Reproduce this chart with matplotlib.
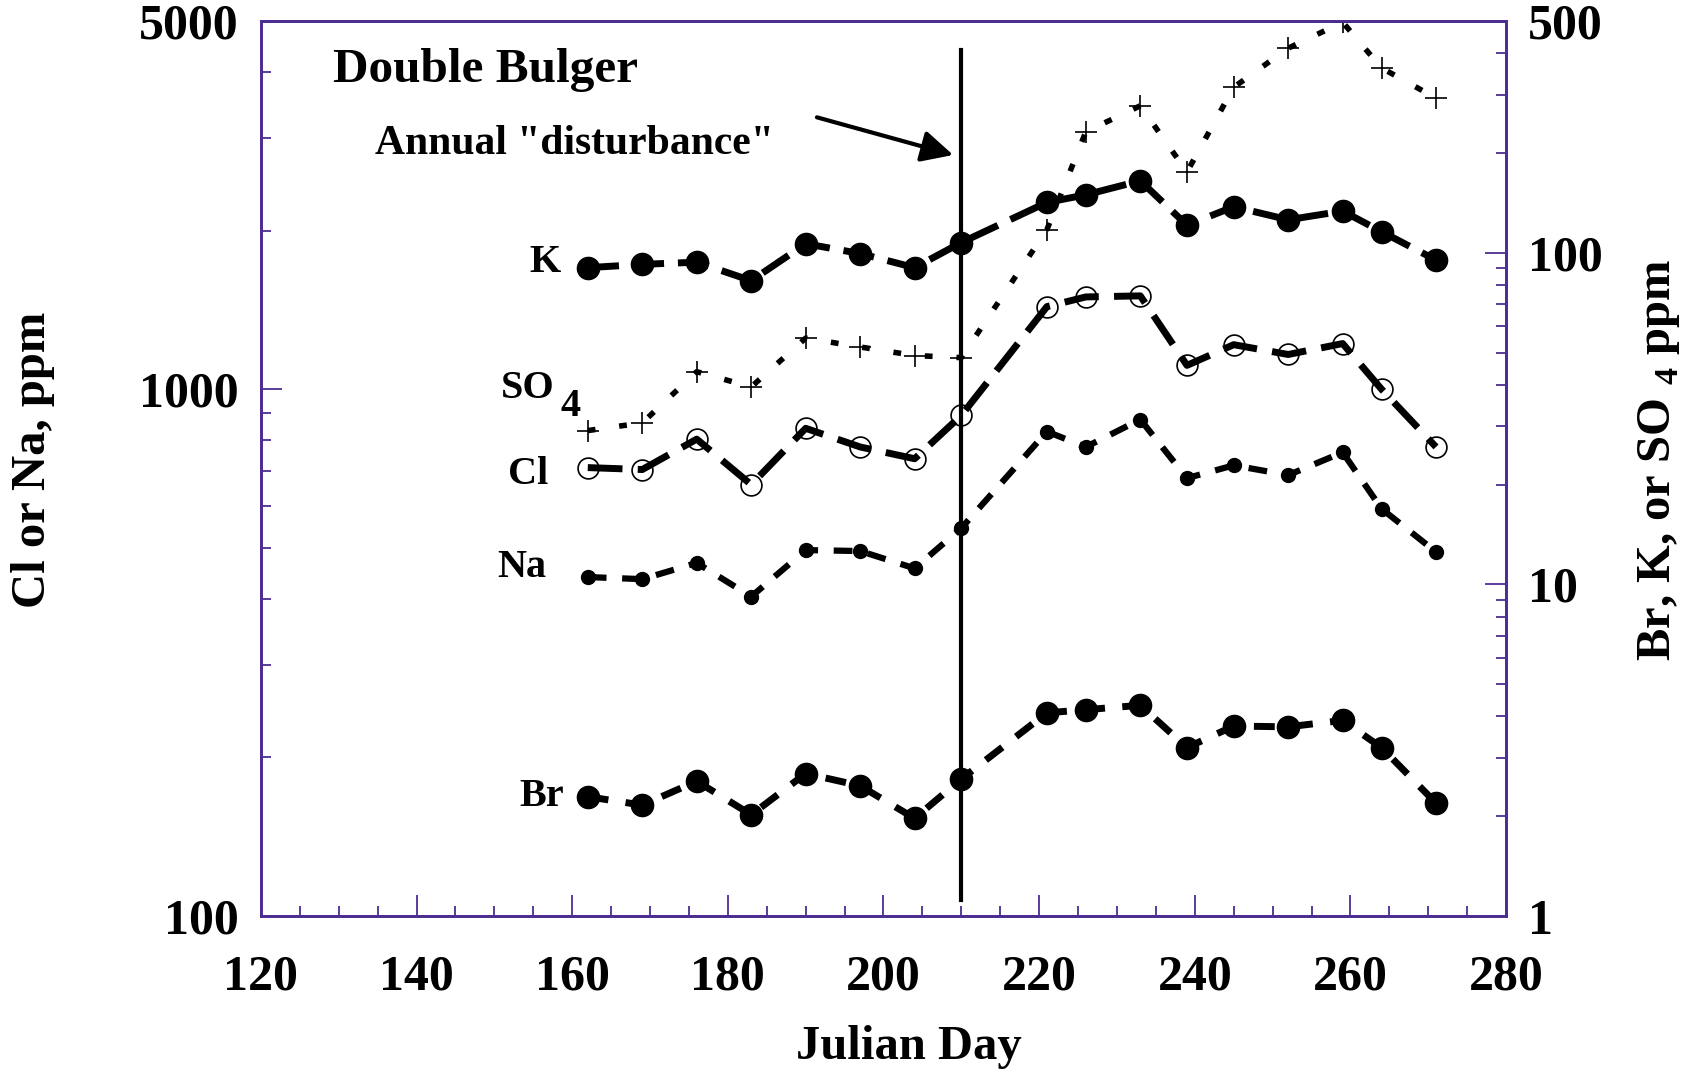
import numpy as np
import matplotlib
matplotlib.use("Agg")
import matplotlib.pyplot as plt
from matplotlib.ticker import LogLocator, FixedLocator, NullFormatter

plt.rcParams['font.family'] = ['Liberation Serif', 'DejaVu Serif']
plt.rcParams['font.weight'] = 'bold'
plt.rcParams['mathtext.fontset'] = 'custom'
plt.rcParams['mathtext.rm'] = 'Liberation Serif:bold'
plt.rcParams['mathtext.bf'] = 'Liberation Serif:bold'

# Julian days of the samples
days = [162, 169, 176, 183, 190, 197, 204, 210, 221, 226, 233, 239, 245, 252, 259, 264, 271]

# left axis (Cl, Na in ppm)
cl = [710, 704, 804, 659, 843, 777, 738, 892, 1435, 1497, 1504, 1110, 1215, 1164, 1221, 1000, 777]
na = [440, 436, 468, 404, 495, 493, 457, 545, 831, 777, 876, 678, 717, 687, 759, 593, 491]

# right axis (Br, K, SO4 in ppm)
k = [90.2, 92.3, 93.7, 82.4, 106.5, 99.5, 90.2, 107.4, 141.9, 149.6, 164.9, 121.1, 137.7, 125.8, 133.6, 115.8, 95.1]
so4 = [29.1, 30.7, 43.8, 39.4, 55.3, 52.0, 49.0, 48.3, 117.5, 231.7, 277.6, 175.3, 315.6, 414, 496, 361, 292.7]
br = [2.29, 2.16, 2.55, 2.02, 2.69, 2.47, 1.97, 2.59, 4.10, 4.19, 4.32, 3.22, 3.74, 3.72, 3.89, 3.22, 2.19]

disturbance_day = 210
purple = '#4b2e91'

fig = plt.figure(figsize=(17.01, 10.73), dpi=100)
ax = fig.add_axes([0.1534, 0.1463, 0.732, 0.8341])
ax2 = ax.twinx()

ax.set_xlim(120, 280)
ax.set_yscale('log')
ax.set_ylim(100, 5000)
ax2.set_yscale('log')
ax2.set_ylim(1, 500)

# series on left axis
ax.plot(days, cl, color='black', lw=5, ls=(0, (5, 2.2)), dash_capstyle='butt',
        marker='o', ms=15, mfc='none', mec='black', mew=1.2)
ax.plot(days, na, color='black', lw=4.5, ls=(0, (3, 2.5)), dash_capstyle='butt',
        marker='o', ms=10, mfc='black', mec='black')

# series on right axis
ax2.plot(days, k, color='black', lw=5, ls=(0, (4.5, 2)), dash_capstyle='butt',
         marker='o', ms=16, mfc='black', mec='black')
ax2.plot(days, so4, color='black', lw=4, ls=(0, (1.4, 4.3)), dash_capstyle='butt',
         marker='+', ms=16, mec='black', mew=1.2)
ax2.plot(days, br, color='black', lw=5, ls=(0, (3, 2.5)), dash_capstyle='butt',
         marker='o', ms=16, mfc='black', mec='black')

ax.axvline(disturbance_day, ymin=0.018, ymax=0.968, color='black', lw=3)

# annotations
ax.text(129.3, 4037, 'Double Bulger', fontsize=35.5, fontweight='bold', va='center', ha='left')
ax.text(134.6, 2924, 'Annual "disturbance"', fontsize=30, fontweight='bold', va='center', ha='left')
ax.annotate('', xy=(209.3, 2775), xytext=(191.1, 3293),
            arrowprops=dict(arrowstyle='-|>', color='black', lw=3, mutation_scale=48))

ax.text(158.5, 1742, 'K', fontsize=29, ha='right', va='center')
ax.text(157.8, 1005, 'SO', fontsize=29, ha='right', va='center')
ax.text(158.5, 927, '4', fontsize=29, ha='left', va='center')
ax.text(157.0, 690, 'Cl', fontsize=29, ha='right', va='center')
ax.text(156.7, 459, 'Na', fontsize=29, ha='right', va='center')
ax.text(158.9, 168.6, 'Br', fontsize=29, ha='right', va='center')

# ticks
ax.xaxis.set_major_locator(FixedLocator(np.arange(120, 281, 20)))
ax.xaxis.set_minor_locator(FixedLocator(np.arange(120, 281, 5)))
ax.yaxis.set_major_locator(FixedLocator([100, 1000, 5000]))
ax.yaxis.set_minor_locator(LogLocator(base=10, subs=np.arange(2, 10)))
ax.yaxis.set_minor_formatter(NullFormatter())
ax.set_yticklabels(['100', '1000', '5000'])
ax2.yaxis.set_major_locator(FixedLocator([1, 10, 100, 500]))
ax2.yaxis.set_minor_locator(LogLocator(base=10, subs=np.arange(2, 10)))
ax2.yaxis.set_minor_formatter(NullFormatter())
ax2.set_yticklabels(['1', '10', '100', '500'])

ax.tick_params(axis='x', which='both', direction='in', top=False, colors=purple,
               labelcolor='black', labelsize=36, pad=28, width=1.3)
ax.tick_params(axis='y', which='both', direction='in', right=False, colors=purple,
               labelcolor='black', labelsize=36, pad=16, width=1.3)
ax2.tick_params(axis='y', which='both', direction='in', left=False, colors=purple,
                labelcolor='black', labelsize=36, pad=16, width=1.3)
for a in (ax, ax2):
    a.tick_params(which='major', length=15)
    a.tick_params(which='minor', length=7.5)
    for s in a.spines.values():
        s.set_color(purple)
        s.set_linewidth(2)

ax.set_xlabel('Julian Day', fontsize=35, fontweight='bold')
ax.xaxis.set_label_coords(0.52, -0.122)
ax.set_ylabel('Cl or Na, ppm', fontsize=35, fontweight='bold')
ax.yaxis.set_label_coords(-0.165, 0.51)
ax2.set_ylabel(r'Br, K, or SO $_{\mathbf{4}}$ ppm', fontsize=35, fontweight='bold')
ax2.yaxis.set_label_coords(1.104, 0.51)

fig.savefig('out.png', dpi=100)
